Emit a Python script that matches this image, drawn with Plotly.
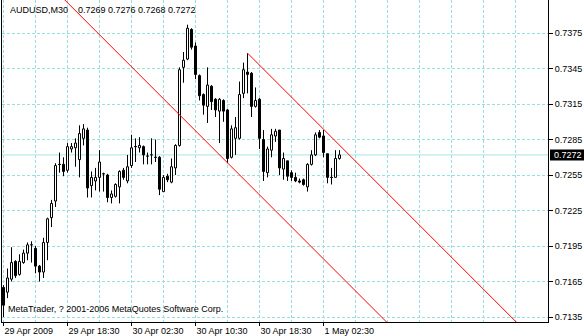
import plotly.graph_objects as go

symbol = "AUDUSD,M30"

opens = [0.7160, 0.7156, 0.7167, 0.7182, 0.7171, 0.7181, 0.7189, 0.7196, 0.7193, 0.7178,
         0.7173, 0.7198, 0.7219, 0.7233, 0.7264, 0.7264, 0.7259, 0.7277, 0.7278, 0.7268,
         0.7286, 0.7293, 0.7246, 0.7250, 0.7253, 0.7256, 0.7255, 0.7236, 0.7237, 0.7245,
         0.7259, 0.7250, 0.7263, 0.7279, 0.7278, 0.7279, 0.7271, 0.7272, 0.7270, 0.7270,
         0.7241, 0.7254, 0.7249, 0.7261, 0.7280, 0.7346, 0.7353, 0.7378, 0.7364, 0.7339,
         0.7323, 0.7313, 0.7330, 0.7319, 0.7309, 0.7318, 0.7310, 0.7270, 0.7286, 0.7286,
         0.7324, 0.7342, 0.7341, 0.7313, 0.7319, 0.7285, 0.7257, 0.7276, 0.7288, 0.7293,
         0.7260, 0.7267, 0.7257, 0.7253, 0.7250, 0.7251, 0.7245, 0.7264, 0.7272, 0.7291,
         0.7288, 0.7273, 0.7253, 0.7253, 0.7269]
highs = [0.7162, 0.7176, 0.7194, 0.7183, 0.7188, 0.7192, 0.7198, 0.7199, 0.7195, 0.7179,
         0.7202, 0.7219, 0.7234, 0.7265, 0.7274, 0.7270, 0.7282, 0.7282, 0.7286, 0.7297,
         0.7298, 0.7295, 0.7258, 0.7261, 0.7276, 0.7257, 0.7256, 0.7242, 0.7248, 0.7259,
         0.7261, 0.7272, 0.7289, 0.7286, 0.7287, 0.7280, 0.7274, 0.7286, 0.7285, 0.7271,
         0.7255, 0.7256, 0.7269, 0.7281, 0.7346, 0.7359, 0.7382, 0.7379, 0.7367, 0.7340,
         0.7324, 0.7346, 0.7331, 0.7320, 0.7320, 0.7319, 0.7311, 0.7297, 0.7304, 0.7334,
         0.7350, 0.7358, 0.7342, 0.7329, 0.7320, 0.7293, 0.7279, 0.7294, 0.7294, 0.7293,
         0.7274, 0.7267, 0.7259, 0.7257, 0.7252, 0.7252, 0.7265, 0.7276, 0.7291, 0.7293,
         0.7293, 0.7273, 0.7261, 0.7276, 0.7276]
lows = [0.7135, 0.7151, 0.7165, 0.7168, 0.7170, 0.7180, 0.7183, 0.7181, 0.7172, 0.7165,
        0.7168, 0.7183, 0.7211, 0.7228, 0.7257, 0.7254, 0.7257, 0.7274, 0.7262, 0.7253,
        0.7280, 0.7236, 0.7236, 0.7242, 0.7241, 0.7241, 0.7232, 0.7231, 0.7236, 0.7231,
        0.7251, 0.7248, 0.7261, 0.7266, 0.7274, 0.7264, 0.7264, 0.7264, 0.7266, 0.7238,
        0.7241, 0.7249, 0.7248, 0.7255, 0.7279, 0.7333, 0.7352, 0.7361, 0.7336, 0.7318,
        0.7306, 0.7299, 0.7310, 0.7304, 0.7282, 0.7300, 0.7265, 0.7269, 0.7272, 0.7285,
        0.7320, 0.7324, 0.7304, 0.7312, 0.7277, 0.7250, 0.7253, 0.7270, 0.7283, 0.7255,
        0.7251, 0.7250, 0.7250, 0.7249, 0.7248, 0.7246, 0.7241, 0.7263, 0.7271, 0.7286,
        0.7270, 0.7248, 0.7247, 0.7253, 0.7268]
closes = [0.7145, 0.7168, 0.7181, 0.7170, 0.7182, 0.7189, 0.7196, 0.7196, 0.7178, 0.7173,
          0.7198, 0.7218, 0.7231, 0.7263, 0.7264, 0.7258, 0.7279, 0.7279, 0.7282, 0.7290,
          0.7294, 0.7244, 0.7253, 0.7253, 0.7266, 0.7256, 0.7236, 0.7239, 0.7247, 0.7258,
          0.7253, 0.7262, 0.7278, 0.7279, 0.7280, 0.7272, 0.7271, 0.7272, 0.7270, 0.7243,
          0.7253, 0.7251, 0.7262, 0.7280, 0.7344, 0.7352, 0.7379, 0.7363, 0.7340, 0.7322,
          0.7314, 0.7331, 0.7317, 0.7310, 0.7319, 0.7309, 0.7269, 0.7294, 0.7295, 0.7323,
          0.7344, 0.7340, 0.7313, 0.7318, 0.7286, 0.7258, 0.7277, 0.7289, 0.7292, 0.7261,
          0.7269, 0.7254, 0.7253, 0.7250, 0.7249, 0.7247, 0.7264, 0.7272, 0.7289, 0.7287,
          0.7274, 0.7253, 0.7253, 0.7269, 0.7272]

time_tick_bars = [0, 16, 32, 48, 64, 80]
time_tick_labels = ["29 Apr 2009", "29 Apr 18:30", "30 Apr 02:30",
                    "30 Apr 10:30", "30 Apr 18:30", "1 May 02:30"]
time_grid_bars = [8, 24, 40, 56, 72, 88, 96, 104, 112, 120, 128]
price_ticks = [0.7135, 0.7165, 0.7195, 0.7225, 0.7255, 0.7285, 0.7315, 0.7345, 0.7375]

# trend lines (bar index, price)
line1_bars = [15, 96]
line1_prices = [0.7404, 0.7130]
line2_bars = [61, 129]
line2_prices = [0.7358, 0.7128]

copyright_text = "MetaTrader, ? 2001-2006 MetaQuotes Software Corp."

FONT = "Liberation Sans, Arial, sans-serif"
GRID = "#9adfe0"
BIDLINE = "#a8e6e6"

body_x, body_base, body_len, body_col = [], [], [], []
wick_x, wick_y = [], []
doji_x, doji_y = [], []
for i, (o, h, l, c) in enumerate(zip(opens, highs, lows, closes)):
    lo, hi = min(o, c), max(o, c)
    if abs(c - o) > 1e-9:
        body_x.append(i)
        body_base.append(lo)
        body_len.append(hi - lo)
        body_col.append("#ffffff" if c > o else "#000000")
    else:
        doji_x += [i - 0.375, i + 0.375, None]
        doji_y += [o, o, None]
    wick_x += [i, i, None, i, i, None]
    wick_y += [l, lo, None, hi, h, None]

fig = go.Figure()
fig.add_trace(go.Bar(x=body_x, y=body_len, base=body_base, width=0.5,
                     marker=dict(color=body_col, line=dict(color="#000000", width=1)),
                     hoverinfo="skip", showlegend=False))
fig.add_trace(go.Scatter(x=wick_x, y=wick_y, mode="lines",
                         line=dict(color="#000000", width=1),
                         hoverinfo="skip", showlegend=False))
fig.add_trace(go.Scatter(x=doji_x, y=doji_y, mode="lines",
                         line=dict(color="#000000", width=1),
                         hoverinfo="skip", showlegend=False))
fig.add_trace(go.Scatter(x=line1_bars, y=line1_prices, mode="lines",
                         line=dict(color="#ff0000", width=1),
                         hoverinfo="skip", showlegend=False))
fig.add_trace(go.Scatter(x=line2_bars, y=line2_prices, mode="lines",
                         line=dict(color="#ff0000", width=1),
                         hoverinfo="skip", showlegend=False))

last = closes[-1]
fig.add_shape(type="line", xref="paper", x0=0, x1=1, yref="y", y0=last, y1=last,
              line=dict(color=BIDLINE, width=1), layer="below")
fig.add_shape(type="rect", xref="paper", x0=1 + 2 / 546, x1=1 + 36 / 546,
              yref="y", ysizemode="pixel", yanchor=last, y0=-5.5, y1=5.5,
              fillcolor="#000000", line=dict(width=0), layer="above")
fig.add_annotation(x=1, xref="paper", y=last, yref="y", xanchor="left", xshift=4,
                   text=f"{last:.4f}", showarrow=False,
                   font=dict(family=FONT, size=9, color="#ffffff"))

fig.add_annotation(x=6 / 546, xref="paper", y=(322 - 10) / 322, yref="paper",
                   xanchor="left", yanchor="middle", text=symbol, showarrow=False,
                   font=dict(family=FONT, size=9, color="#000000"))
fig.add_annotation(x=74 / 546, xref="paper", y=(322 - 10) / 322, yref="paper",
                   xanchor="left", yanchor="middle",
                   text=f"{opens[-1]:.4f} {highs[-1]:.4f} {lows[-1]:.4f} {closes[-1]:.4f}",
                   showarrow=False, font=dict(family=FONT, size=9, color="#000000"))
fig.add_annotation(x=4 / 546, xref="paper", y=(322 - 309) / 322, yref="paper",
                   xanchor="left", yanchor="middle", text=copyright_text, showarrow=False,
                   font=dict(family=FONT, size=9, color="#000000"))

fig.update_layout(
    width=584, height=336,
    margin=dict(l=2, r=36, t=0, b=14, pad=0),
    paper_bgcolor="#ffffff", plot_bgcolor="#ffffff",
    showlegend=False, barmode="overlay",
    xaxis=dict(range=[-0.375, 136.125], tickmode="array",
               tickvals=time_tick_bars, ticktext=time_tick_labels,
               ticks="outside", ticklen=3, tickcolor="#000000", tickwidth=1,
               ticklabelposition="outside right",
               showline=True, linecolor="#000000", linewidth=1,
               showgrid=True, gridcolor=GRID, griddash="3px,2px", gridwidth=1,
               zeroline=False,
               tickfont=dict(family=FONT, size=9, color="#000000"),
               minor=dict(tickmode="array", tickvals=time_grid_bars, ticks="",
                          showgrid=True, gridcolor=GRID, griddash="3px,2px", gridwidth=1)),
    yaxis=dict(range=[0.71308, 0.74029], side="right", tickmode="array",
               tickvals=price_ticks, tickformat=".4f",
               ticks="outside", ticklen=4, tickcolor="#000000", tickwidth=1,
               showline=True, mirror=True, linecolor="#000000", linewidth=1,
               showgrid=True, gridcolor=GRID, griddash="3px,2px", gridwidth=1,
               zeroline=False,
               tickfont=dict(family=FONT, size=9, color="#000000")),
)

fig.write_html("out.html")
